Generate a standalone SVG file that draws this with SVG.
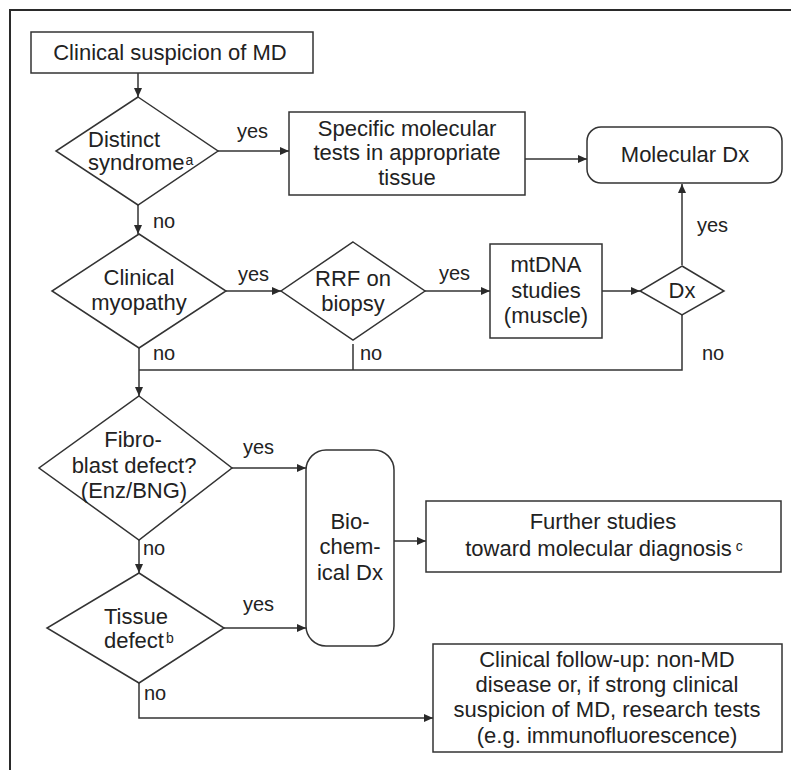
<svg xmlns="http://www.w3.org/2000/svg" width="791" height="770" viewBox="0 0 791 770">
<defs>
<marker id="ah" markerWidth="9" markerHeight="9" refX="9" refY="4.5" orient="auto" markerUnits="userSpaceOnUse">
<path d="M0,0.5 L9,4.5 L0,8.5 Z" fill="#2a2a2a"/>
</marker>
</defs>
<style>
.s{fill:#fff;stroke:#333;stroke-width:1.5}
.c{fill:none;stroke:#333;stroke-width:1.5}
.t{font-family:"Liberation Sans",Arial,sans-serif;font-size:22px;fill:#222}
.m{text-anchor:middle}
.l{font-family:"Liberation Sans",Arial,sans-serif;font-size:20px;fill:#222}
.sup{font-size:14px}
</style>
<rect width="791" height="770" fill="#fff"/>
<path d="M10,770 V10 H791" fill="none" stroke="#2a2a2a" stroke-width="2"/>

<g id="connectors">
<path class="c" d="M138,73 V97" marker-end="url(#ah)"/>
<path class="c" d="M218,151 H289" marker-end="url(#ah)"/>
<path class="c" d="M525,159 H587" marker-end="url(#ah)"/>
<path class="c" d="M138,205 V234" marker-end="url(#ah)"/>
<path class="c" d="M226,291 H281" marker-end="url(#ah)"/>
<path class="c" d="M425,291 H490" marker-end="url(#ah)"/>
<path class="c" d="M602,291 H640" marker-end="url(#ah)"/>
<path class="c" d="M682,265 V184" marker-end="url(#ah)"/>
<path class="c" d="M682,314 V370 H139"/>
<path class="c" d="M353,344 V370"/>
<path class="c" d="M139,348 V396" marker-end="url(#ah)"/>
<path class="c" d="M232,468 H306" marker-end="url(#ah)"/>
<path class="c" d="M139,540 V573" marker-end="url(#ah)"/>
<path class="c" d="M224,628 H306" marker-end="url(#ah)"/>
<path class="c" d="M394,541 H426" marker-end="url(#ah)"/>
<path class="c" d="M139,683 V718 H433" marker-end="url(#ah)"/>
<text class="l" x="237" y="138">yes</text>
<text class="l" x="153" y="228">no</text>
<text class="l" x="238" y="281">yes</text>
<text class="l" x="439" y="280">yes</text>
<text class="l" x="697" y="232">yes</text>
<text class="l" x="153" y="360">no</text>
<text class="l" x="360" y="360">no</text>
<text class="l" x="702" y="360">no</text>
<text class="l" x="243" y="454">yes</text>
<text class="l" x="143" y="555">no</text>
<text class="l" x="243" y="611">yes</text>
<text class="l" x="144" y="700">no</text>
</g>

<g id="clinical-suspicion">
<rect class="s" x="31" y="32" width="282" height="41"/>
<text class="t m" x="170" y="60">Clinical suspicion of MD</text>
</g>

<g id="distinct-syndrome">
<polygon class="s" points="138,97 218,151 138,205 56,151"/>
<text class="t" x="88" y="147">Distinct</text>
<text class="t" x="88" y="170">syndrome<tspan class="sup" dx="1" dy="-5">a</tspan></text>
</g>

<g id="specific-tests">
<rect class="s" x="289" y="112" width="236" height="83"/>
<text class="t m" x="407" y="136">Specific molecular</text>
<text class="t m" x="407" y="160">tests in appropriate</text>
<text class="t m" x="407" y="185">tissue</text>
</g>

<g id="molecular-dx">
<rect class="s" x="587" y="127" width="195" height="56" rx="14"/>
<text class="t m" x="685" y="162">Molecular Dx</text>
</g>

<g id="clinical-myopathy">
<polygon class="s" points="139,234 226,291 139,348 52,291"/>
<text class="t m" x="139" y="285">Clinical</text>
<text class="t m" x="139" y="310">myopathy</text>
</g>

<g id="rrf-biopsy">
<polygon class="s" points="353,242 425,291 353,340 281,291"/>
<text class="t m" x="353" y="286">RRF on</text>
<text class="t m" x="353" y="311">biopsy</text>
</g>

<g id="mtdna-studies">
<rect class="s" x="490" y="244" width="112" height="94"/>
<text class="t m" x="546" y="272">mtDNA</text>
<text class="t m" x="546" y="298">studies</text>
<text class="t m" x="546" y="323">(muscle)</text>
</g>

<g id="dx">
<polygon class="s" points="682,266 724,291 682,315 640,291"/>
<text class="t m" x="682" y="298">Dx</text>
</g>

<g id="fibroblast-defect">
<polygon class="s" points="139,396 232,468 139,540 39,468"/>
<text class="t m" x="133" y="447">Fibro-</text>
<text class="t m" x="134" y="473">blast defect?</text>
<text class="t m" x="134" y="498">(Enz/BNG)</text>
</g>

<g id="tissue-defect">
<polygon class="s" points="139,573 224,628 139,683 47,628"/>
<text class="t" x="104" y="624">Tissue</text>
<text class="t" x="104" y="648">defect<tspan class="sup" dx="2" dy="-5">b</tspan></text>
</g>

<g id="biochemical-dx">
<rect class="s" x="306" y="450" width="88" height="196" rx="20"/>
<text class="t m" x="350" y="529">Bio-</text>
<text class="t m" x="350" y="554">chem-</text>
<text class="t m" x="350" y="580">ical Dx</text>
</g>

<g id="further-studies">
<rect class="s" x="426" y="501" width="355" height="71"/>
<text class="t m" x="603" y="529">Further studies</text>
<text class="t m" x="604" y="556">toward molecular diagnosis<tspan class="sup" dx="4" dy="-5">c</tspan></text>
</g>

<g id="clinical-follow-up">
<rect class="s" x="433" y="644" width="349" height="108"/>
<text class="t m" x="607" y="667">Clinical follow-up: non-MD</text>
<text class="t m" x="607" y="692">disease or, if strong clinical</text>
<text class="t m" x="607" y="717">suspicion of MD, research tests</text>
<text class="t m" x="607" y="743">(e.g. immunofluorescence)</text>
</g>
</svg>
